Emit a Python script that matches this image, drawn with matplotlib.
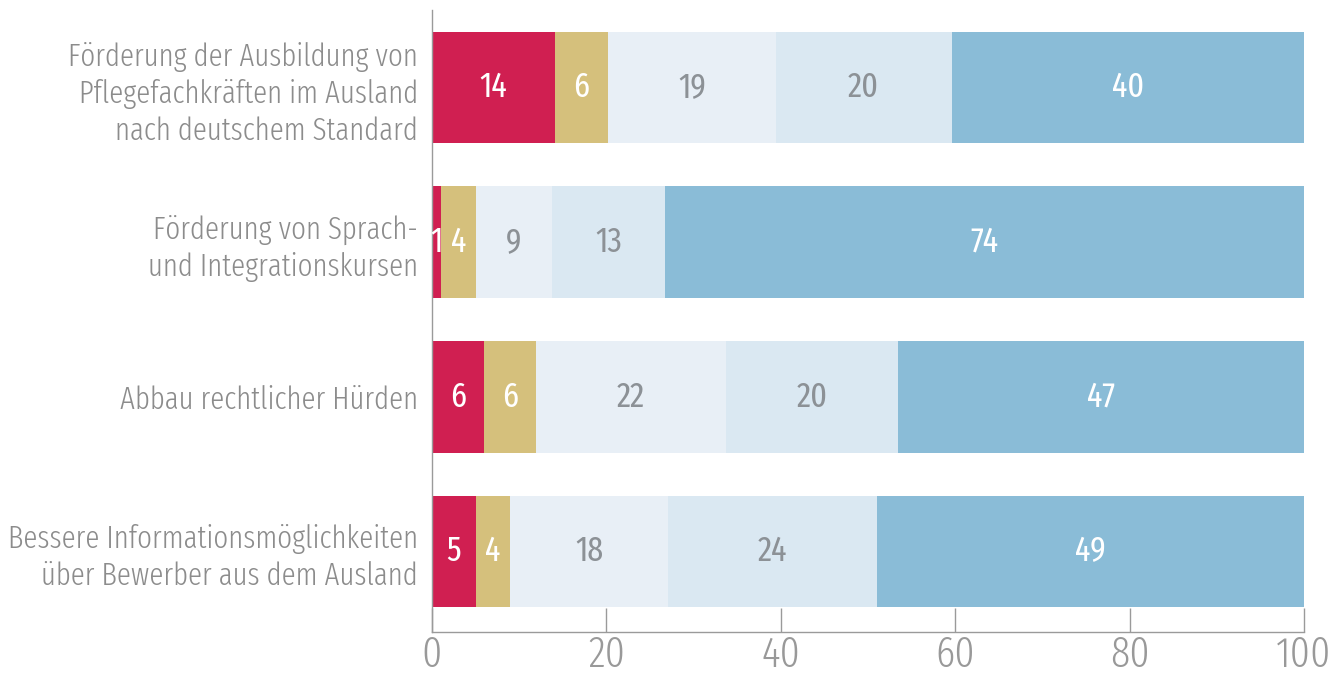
import matplotlib
matplotlib.use("Agg")
import matplotlib.pyplot as plt
import numpy as np

categories = [
    "Förderung der Ausbildung von\nPflegefachkräften im Ausland\nnach deutschem Standard",
    "Förderung von Sprach-\nund Integrationskursen",
    "Abbau rechtlicher Hürden",
    "Bessere Informationsmöglichkeiten\nüber Bewerber aus dem Ausland",
]
# segment widths (percent, as drawn) and their printed labels
s1 = [14.1, 1.0, 6.0, 5.0]
s2 = [6.1, 4.0, 5.9, 3.9]
s3 = [19.2, 8.8, 21.8, 18.2]
s4 = [20.2, 12.9, 19.7, 23.9]
s5 = [40.4, 73.3, 46.6, 49.0]
l1 = [14, 1, 6, 5]
l2 = [6, 4, 6, 4]
l3 = [19, 9, 22, 18]
l4 = [20, 13, 20, 24]
l5 = [40, 74, 47, 49]
series = [s1, s2, s3, s4, s5]
labels = [l1, l2, l3, l4, l5]
colors = ["#D01F51", "#D5C07C", "#E8EFF6", "#DAE8F2", "#8ABCD7"]
text_colors = ["white", "white", "#8C9196", "#8C9196", "white"]
xticks = [0, 20, 40, 60, 80, 100]

font = ["Fira Sans Extra Condensed", "DejaVu Sans"]
plt.rcParams["font.family"] = font
plt.rcParams["font.weight"] = 300

fig = plt.figure(figsize=(13.3, 6.75), dpi=100)
ax = fig.add_axes([432/1330, 1-632/675, (1304-432)/1330, (632-10)/675])

y = np.arange(len(categories))
left = np.zeros(len(categories))
for vals, labs, c, tc in zip(series, labels, colors, text_colors):
    vals = np.array(vals, dtype=float)
    ax.barh(y, vals, left=left, height=0.72, color=c, edgecolor="none")
    for yi, v, l, lab in zip(y, vals, left, labs):
        ax.text(l + v/2, yi, f"{lab}", ha="center", va="center",
                color=tc, fontsize=25, fontweight=400)
    left += vals

ax.set_xlim(0, 100)
ax.set_ylim(3.52, -0.5)
ax.set_yticks(y)
ax.set_yticklabels(categories, fontsize=22.5, color="#8C8C8C", linespacing=1.28, fontweight=300)
ax.set_xticks(xticks)
ax.set_xticklabels([str(t) for t in xticks], fontsize=31, color="#999999", fontweight=300)
ax.tick_params(axis="y", length=0, pad=10)
ax.tick_params(axis="x", direction="in", length=17, width=1, color="#9A9A9A", pad=2)
for s in ["top", "right"]:
    ax.spines[s].set_visible(False)
for s in ["left", "bottom"]:
    ax.spines[s].set_color("#9A9A9A")
    ax.spines[s].set_linewidth(1)

fig.savefig("out.png", dpi=100)
